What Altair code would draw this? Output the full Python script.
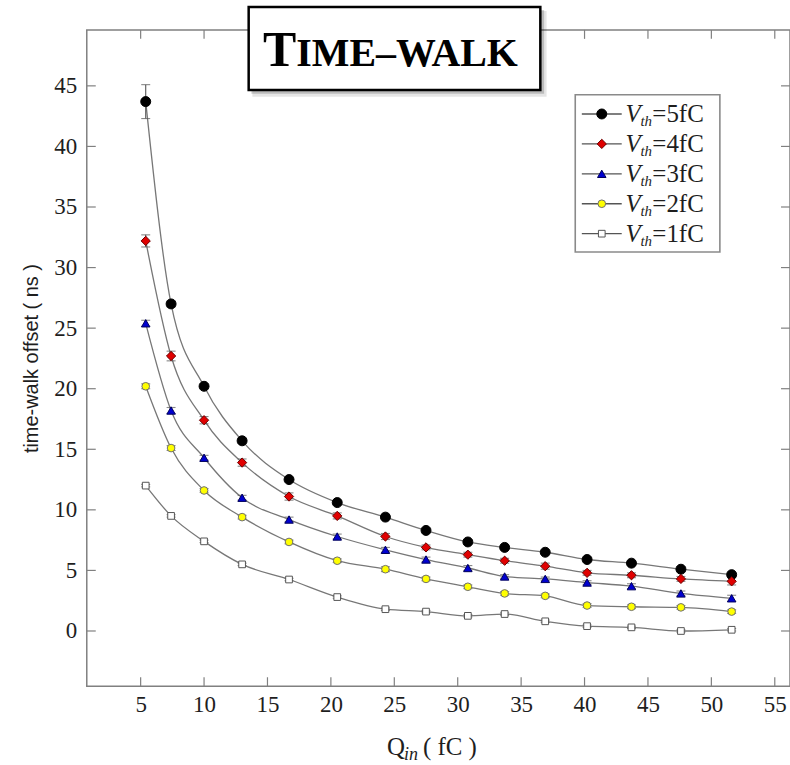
import altair as alt
import pandas as pd

# ---------------- data ----------------
q_in = [5.4, 7.4, 10.0, 13.0, 16.7, 20.5, 24.3, 27.5, 30.8, 33.7, 36.9, 40.2, 43.7, 47.6, 51.6]
vth_labels = ["5fC", "4fC", "3fC", "2fC", "1fC"]

offset_5fc = [43.7, 27.0, 20.2, 15.7, 12.5, 10.6, 9.4, 8.3, 7.35, 6.9, 6.5, 5.9, 5.6, 5.1, 4.65]
offset_4fc = [32.2, 22.7, 17.4, 13.9, 11.1, 9.5, 7.8, 6.9, 6.3, 5.8, 5.35, 4.8, 4.6, 4.3, 4.1]
offset_3fc = [25.4, 18.2, 14.3, 11.0, 9.2, 7.8, 6.7, 5.9, 5.2, 4.5, 4.3, 4.0, 3.7, 3.1, 2.7]
offset_2fc = [20.2, 15.1, 11.6, 9.4, 7.35, 5.8, 5.1, 4.3, 3.65, 3.1, 2.9, 2.1, 2.0, 1.95, 1.6]
offset_1fc = [12.0, 9.5, 7.4, 5.5, 4.25, 2.8, 1.8, 1.6, 1.25, 1.4, 0.8, 0.4, 0.3, 0.0, 0.1]

err_5fc = [1.4, 0.25, 0.2, 0.2, 0.15, 0.15, 0.15, 0.15, 0.15, 0.1, 0.1, 0.15, 0.15, 0.2, 0.15]
err_4fc = [0.5, 0.4, 0.3, 0.3, 0.3, 0.25, 0.25, 0.2, 0.2, 0.2, 0.25, 0.2, 0.2, 0.2, 0.3]
err_3fc = [0.25, 0.25, 0.2, 0.2, 0.2, 0.2, 0.2, 0.2, 0.2, 0.15, 0.15, 0.15, 0.2, 0.2, 0.25]
err_2fc = [0.2, 0.2, 0.15, 0.15, 0.15, 0.15, 0.2, 0.15, 0.15, 0.15, 0.15, 0.15, 0.15, 0.15, 0.15]
err_1fc = [0.1, 0.1, 0.1, 0.1, 0.1, 0.1, 0.1, 0.1, 0.1, 0.1, 0.1, 0.1, 0.1, 0.1, 0.1]

x_ticks = [5, 10, 15, 20, 25, 30, 35, 40, 45, 50, 55]
y_ticks = [0, 5, 10, 15, 20, 25, 30, 35, 40, 45]

# ---------------- tables ----------------
series_vals = [offset_5fc, offset_4fc, offset_3fc, offset_2fc, offset_1fc]
series_errs = [err_5fc, err_4fc, err_3fc, err_2fc, err_1fc]
rows = []
for lab, vals, errs in zip(vth_labels, series_vals, series_errs):
    for q, v, e in zip(q_in, vals, errs):
        rows.append({"series": lab, "q": q, "t": v, "lo": v - e, "hi": v + e})
df = pd.DataFrame(rows)
df_leg = pd.DataFrame({"series": vth_labels, "order": list(range(len(vth_labels)))})
one = pd.DataFrame({"a": [0]})

W, H = 705, 658
SERIF = "Liberation Serif"
TXT = "#1e1e1e"
GRAY = "#808080"

xs = alt.Scale(domain=[0.753, 56.2], nice=False, zero=False)
ys = alt.Scale(domain=[-4.56, 49.62], nice=False, zero=False)
xaxis = alt.Axis(values=x_ticks, ticks=False, domain=False, grid=False, labelFont=SERIF,
                 labelFontSize=23, labelColor=TXT, labelPadding=7, labelOverlap=False,
                 labelFlush=False, title=None)
yaxis = alt.Axis(values=y_ticks, ticks=False, domain=False, grid=False, labelFont=SERIF,
                 labelFontSize=23, labelColor=TXT, labelPadding=10, labelOverlap=False,
                 labelFlush=False, title="time-walk offset ( ns )", titleFont="Liberation Sans",
                 titleFontSize=20, titleFontWeight="normal", titleColor=TXT, titlePadding=12)


def X(f):
    return alt.X(f, type="quantitative", scale=xs, axis=xaxis)


def Y(f):
    return alt.Y(f, type="quantitative", scale=ys, axis=yaxis)


sdom = vth_labels
shape_enc = alt.Shape("series:N", legend=None, scale=alt.Scale(
    domain=sdom, range=["circle", "diamond", "triangle-up", "circle", "square"]))
fill_enc = alt.Fill("series:N", legend=None, scale=alt.Scale(
    domain=sdom, range=["#000000", "#e00000", "#0000d0", "#ffff00", "#ffffff"]))
stroke_enc = alt.Stroke("series:N", legend=None, scale=alt.Scale(
    domain=sdom, range=["#000000", "#6a0000", "#00005a", "#6e6e6e", "#555555"]))
size_enc = alt.Size("series:N", legend=None, scale=alt.Scale(
    domain=sdom, range=[100, 45, 50, 105, 105]))

# ---------------- inward ticks on all four sides ----------------
dfx = pd.DataFrame({"v": x_ticks})
dfy = pd.DataFrame({"v": y_ticks})
tick_style = dict(color=GRAY, strokeWidth=1.2)
ticks_b = alt.Chart(dfx).mark_rule(**tick_style).encode(x=X("v"), y=alt.value(H), y2=alt.value(H - 9))
ticks_t = alt.Chart(dfx).mark_rule(**tick_style).encode(x=X("v"), y=alt.value(0), y2=alt.value(9))
ticks_l = alt.Chart(dfy).mark_rule(**tick_style).encode(y=Y("v"), x=alt.value(0), x2=alt.value(9))
ticks_r = alt.Chart(dfy).mark_rule(**tick_style).encode(y=Y("v"), x=alt.value(W), x2=alt.value(W - 9))

# ---------------- data marks ----------------
lines = alt.Chart(df).mark_line(interpolate="monotone", color="#777777", strokeWidth=1.3).encode(
    x=X("q"), y=Y("t"), detail="series:N")
ebar = alt.Chart(df).mark_rule(color="#555555", strokeWidth=1.1).encode(
    x=X("q"), y=Y("lo"), y2=alt.Y2("hi"))
ecap_lo = alt.Chart(df).mark_tick(orient="horizontal", size=9, thickness=1.1, color="#555555").encode(
    x=X("q"), y=Y("lo"))
ecap_hi = alt.Chart(df).mark_tick(orient="horizontal", size=9, thickness=1.1, color="#555555").encode(
    x=X("q"), y=Y("hi"))
points = alt.Chart(df).mark_point(filled=True, opacity=1, strokeWidth=1).encode(
    x=X("q"), y=Y("t"), shape=shape_enc, fill=fill_enc, stroke=stroke_enc, size=size_enc)

# ---------------- legend (drawn) ----------------
leg_base = alt.Chart(df_leg).transform_calculate(
    ly="84.3 + 30 * datum.order", lbl="'=' + datum.series")
ly = alt.Y("ly:Q", scale=None, axis=None)
leg_box = alt.Chart(one).mark_rect(fill="white", stroke="#8a8a8a", strokeWidth=1.6).encode(
    x=alt.value(489.7), x2=alt.value(634.7), y=alt.value(65), y2=alt.value(222.7))
leg_line = leg_base.mark_rule(color="#555555", strokeWidth=1.3).encode(
    x=alt.value(496.3), x2=alt.value(536.3), y=ly)
leg_pt = leg_base.mark_point(filled=True, opacity=1, strokeWidth=1).encode(
    x=alt.value(516.3), y=ly, shape=shape_enc, fill=fill_enc, stroke=stroke_enc, size=size_enc)
leg_v = leg_base.mark_text(align="left", baseline="middle", font=SERIF, fontStyle="italic",
                           fontSize=25, color=TXT).encode(x=alt.value(540), y=ly, text=alt.value("V"))
leg_th = leg_base.mark_text(align="left", baseline="middle", font=SERIF, fontStyle="italic",
                            fontSize=15, color=TXT, dy=7).encode(x=alt.value(555), y=ly, text=alt.value("th"))
leg_lab = leg_base.mark_text(align="left", baseline="middle", font=SERIF, fontSize=25,
                             color=TXT).encode(x=alt.value(567), y=ly, text="lbl:N")

# ---------------- title box ----------------
shadow1 = alt.Chart(one).mark_rect(color="#000000", opacity=0.10).encode(
    x=alt.value(166), x2=alt.value(461), y=alt.value(-19), y2=alt.value(67))
shadow2 = alt.Chart(one).mark_rect(color="#000000", opacity=0.18).encode(
    x=alt.value(165), x2=alt.value(458.5), y=alt.value(-20), y2=alt.value(64))
box = alt.Chart(one).mark_rect(fill="white", stroke="black", strokeWidth=2.5).encode(
    x=alt.value(162.3), x2=alt.value(454.7), y=alt.value(-23), y2=alt.value(60.3))
title_t = alt.Chart(one).mark_text(align="right", baseline="alphabetic", font=SERIF, fontWeight="bold",
                                   fontSize=50, color="black").encode(
    x=alt.value(210), y=alt.value(36), text=alt.value("T"))
title_rest = alt.Chart(one).mark_text(align="left", baseline="alphabetic", font=SERIF, fontWeight="bold",
                                      fontSize=40, color="black").encode(
    x=alt.value(210), y=alt.value(36), text=alt.value("IME\u2013WALK"))

# ---------------- x-axis title with subscript ----------------
xt_q = alt.Chart(one).mark_text(align="left", baseline="alphabetic", font=SERIF, fontSize=25,
                                color=TXT).encode(x=alt.value(301), y=alt.value(727), text=alt.value("Q"))
xt_in = alt.Chart(one).mark_text(align="left", baseline="alphabetic", font=SERIF, fontStyle="italic",
                                 fontSize=18, color=TXT).encode(x=alt.value(318), y=alt.value(732), text=alt.value("in"))
xt_rest = alt.Chart(one).mark_text(align="left", baseline="alphabetic", font=SERIF, fontSize=25,
                                   color=TXT).encode(x=alt.value(337), y=alt.value(727), text=alt.value("( fC )"))

chart = alt.layer(
    ticks_b, ticks_t, ticks_l, ticks_r,
    lines, ebar, ecap_lo, ecap_hi, points,
    leg_box, leg_line, leg_pt, leg_v, leg_th, leg_lab,
    shadow1, shadow2, box, title_t, title_rest,
    xt_q, xt_in, xt_rest,
).properties(
    width=W, height=H,
    padding={"left": 87, "top": 29, "right": 0, "bottom": 78},
    autosize=alt.AutoSizeParams(type="none"),
    background="white",
).configure_view(stroke=GRAY, strokeWidth=1.5).configure_axis(
    labelFont=SERIF, labelFontSize=23, labelColor=TXT
).configure_text(font=SERIF)

chart.save("out.html", embed_options={"renderer": "svg", "actions": False})
